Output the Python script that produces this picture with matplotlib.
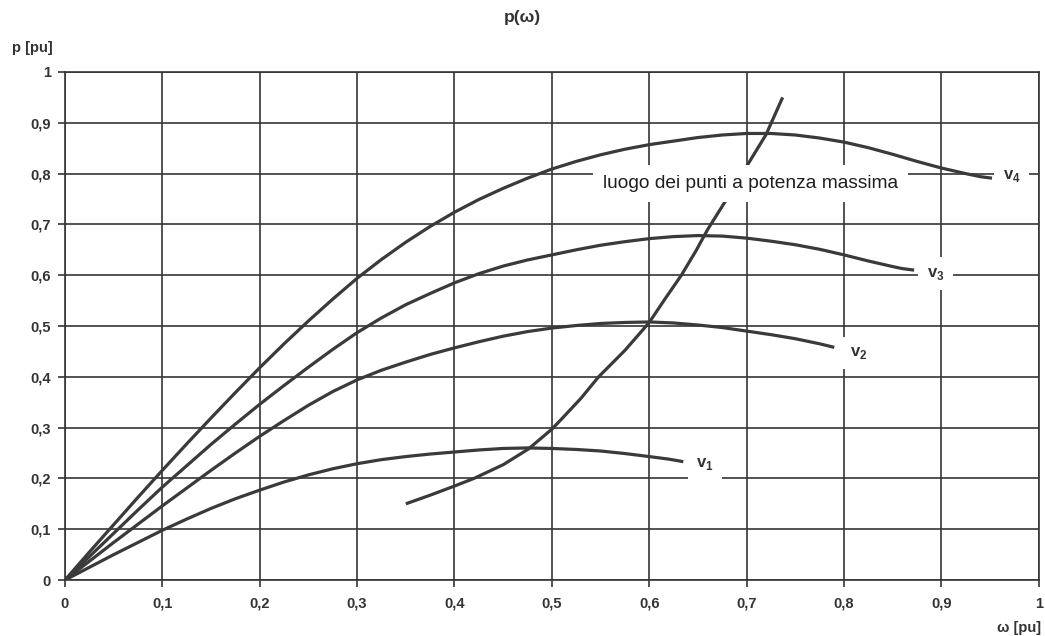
import matplotlib
matplotlib.use("Agg")
import matplotlib.pyplot as plt

# ---- data ----
v1_x = [0, 0.025, 0.05, 0.075, 0.1, 0.125, 0.15, 0.175, 0.2, 0.225, 0.25, 0.275, 0.3, 0.325,
        0.35, 0.375, 0.4, 0.425, 0.45, 0.475, 0.5, 0.525, 0.55, 0.575, 0.6, 0.62, 0.635]
v1_y = [0, 0.025, 0.05, 0.074, 0.098, 0.12, 0.141, 0.16, 0.177, 0.193, 0.207, 0.219, 0.229, 0.237,
        0.243, 0.248, 0.252, 0.256, 0.259, 0.26, 0.259, 0.257, 0.254, 0.249, 0.243, 0.238, 0.233]

v2_x = [0, 0.025, 0.05, 0.075, 0.1, 0.125, 0.15, 0.175, 0.2, 0.225, 0.25, 0.275, 0.3, 0.325,
        0.35, 0.375, 0.4, 0.425, 0.45, 0.475, 0.5, 0.525, 0.55, 0.575, 0.6, 0.625, 0.65, 0.675,
        0.7, 0.725, 0.75, 0.775, 0.79]
v2_y = [0, 0.037, 0.074, 0.11, 0.146, 0.181, 0.216, 0.25, 0.283, 0.314, 0.344, 0.371, 0.394, 0.413,
        0.429, 0.444, 0.457, 0.469, 0.48, 0.489, 0.496, 0.501, 0.505, 0.507, 0.508, 0.506, 0.502, 0.497,
        0.49, 0.483, 0.475, 0.465, 0.458]

v3_x = [0, 0.025, 0.05, 0.075, 0.1, 0.125, 0.15, 0.175, 0.2, 0.225, 0.25, 0.275, 0.3, 0.325,
        0.35, 0.375, 0.4, 0.425, 0.45, 0.475, 0.5, 0.525, 0.55, 0.575, 0.6, 0.625, 0.65, 0.675,
        0.7, 0.725, 0.75, 0.775, 0.8, 0.825, 0.85, 0.86, 0.872]
v3_y = [0, 0.046, 0.092, 0.138, 0.183, 0.225, 0.267, 0.307, 0.346, 0.383, 0.419, 0.454, 0.487, 0.516,
        0.542, 0.564, 0.585, 0.603, 0.618, 0.63, 0.64, 0.65, 0.659, 0.666, 0.672, 0.676, 0.678, 0.677,
        0.673, 0.667, 0.66, 0.651, 0.64, 0.628, 0.617, 0.613, 0.61]

v4_x = [0, 0.025, 0.05, 0.075, 0.1, 0.125, 0.15, 0.175, 0.2, 0.225, 0.25, 0.275, 0.3, 0.325,
        0.35, 0.375, 0.4, 0.425, 0.45, 0.475, 0.5, 0.525, 0.55, 0.575, 0.6, 0.625, 0.65, 0.675,
        0.7, 0.725, 0.75, 0.775, 0.8, 0.825, 0.85, 0.875, 0.9, 0.925, 0.94, 0.952]
v4_y = [0, 0.055, 0.109, 0.163, 0.216, 0.268, 0.319, 0.369, 0.418, 0.465, 0.51, 0.553, 0.594, 0.631,
        0.665, 0.696, 0.724, 0.749, 0.771, 0.791, 0.809, 0.824, 0.837, 0.848, 0.857, 0.864, 0.871, 0.876,
        0.879, 0.879, 0.876, 0.87, 0.862, 0.851, 0.838, 0.824, 0.811, 0.8, 0.794, 0.791]

locus_x = [0.35, 0.375, 0.4, 0.42, 0.45, 0.476, 0.5, 0.51, 0.53, 0.548, 0.575, 0.6, 0.615, 0.633,
           0.648, 0.66, 0.678, 0.698, 0.72, 0.737]
locus_y = [0.15, 0.167, 0.185, 0.2, 0.227, 0.258, 0.297, 0.317, 0.358, 0.4, 0.452, 0.507, 0.55, 0.6,
           0.648, 0.69, 0.745, 0.808, 0.877, 0.95]

x_ticks = [0, 0.1, 0.2, 0.3, 0.4, 0.5, 0.6, 0.7, 0.8, 0.9, 1.0]
x_tick_labels = ['0', '0,1', '0,2', '0,3', '0,4', '0,5', '0,6', '0,7', '0,8', '0,9', '1']
y_ticks = [0, 0.1, 0.2, 0.3, 0.4, 0.5, 0.6, 0.7, 0.8, 0.9, 1.0]
y_tick_labels = ['0', '0,1', '0,2', '0,3', '0,4', '0,5', '0,6', '0,7', '0,8', '0,9', '1']

curve_labels = ['v$_\\mathregular{1}$', 'v$_\\mathregular{2}$', 'v$_\\mathregular{3}$', 'v$_\\mathregular{4}$']
curve_label_pos = [(0.657, 0.229), (0.815, 0.447), (0.894, 0.603), (0.972, 0.796)]
locus_label = 'luogo dei punti a potenza massima'
locus_label_pos = (0.704, 0.78)

title = 'p(ω)'
xlabel = 'ω [pu]'
ylabel = 'p [pu]'

# ---- drawing ----
plt.rcParams['font.family'] = ['Liberation Sans', 'DejaVu Sans']
dark = '#3a3a3a'
grid_c = '#353535'

fig = plt.figure(figsize=(10.45, 6.36), dpi=100)
ax = fig.add_axes([0.0622, 0.088, 0.9318, 0.7988])

ax.set_xlim(0, 1)
ax.set_ylim(0, 1)
ax.set_xticks(x_ticks)
ax.set_xticklabels(x_tick_labels)
ax.set_yticks(y_ticks)
ax.set_yticklabels(y_tick_labels)
ax.tick_params(axis='both', direction='out', length=5, width=1.2, color=grid_c,
               labelsize=10.5, labelcolor='#333333')
ax.tick_params(axis='x', pad=7)
ax.tick_params(axis='y', pad=5)
for lab in ax.get_xticklabels() + ax.get_yticklabels():
    lab.set_fontweight('bold')

ax.grid(True, color=grid_c, linewidth=1.2)
ax.set_axisbelow(True)
for s in ax.spines.values():
    s.set_color(grid_c)
    s.set_linewidth(1.2)

for xs, ys in [(v1_x, v1_y), (v2_x, v2_y), (v3_x, v3_y), (v4_x, v4_y), (locus_x, locus_y)]:
    ax.plot(xs, ys, color=dark, linewidth=2.3, solid_capstyle='butt',
            solid_joinstyle='round', zorder=3)

for lab, (lx, ly) in zip(curve_labels, curve_label_pos):
    ax.text(lx, ly, lab, ha='center', va='center', fontsize=12, fontweight='bold',
            color='#333333', zorder=4,
            bbox=dict(facecolor='white', edgecolor='none', pad=6))

ax.text(locus_label_pos[0], locus_label_pos[1], locus_label, ha='center', va='center',
        fontsize=13.8, color='#1e1e1e', zorder=4,
        bbox=dict(facecolor='white', edgecolor='none', pad=7))

fig.text(0.5, 0.972, title, ha='center', va='center', fontsize=12.5, fontweight='bold', color='#333333')
fig.text(0.0115, 0.925, ylabel, ha='left', va='center', fontsize=10.5, fontweight='bold', color='#333333')
fig.text(0.996, 0.0126, xlabel, ha='right', va='center', fontsize=10.5, fontweight='bold', color='#333333')

fig.savefig('out.png', dpi=100)
